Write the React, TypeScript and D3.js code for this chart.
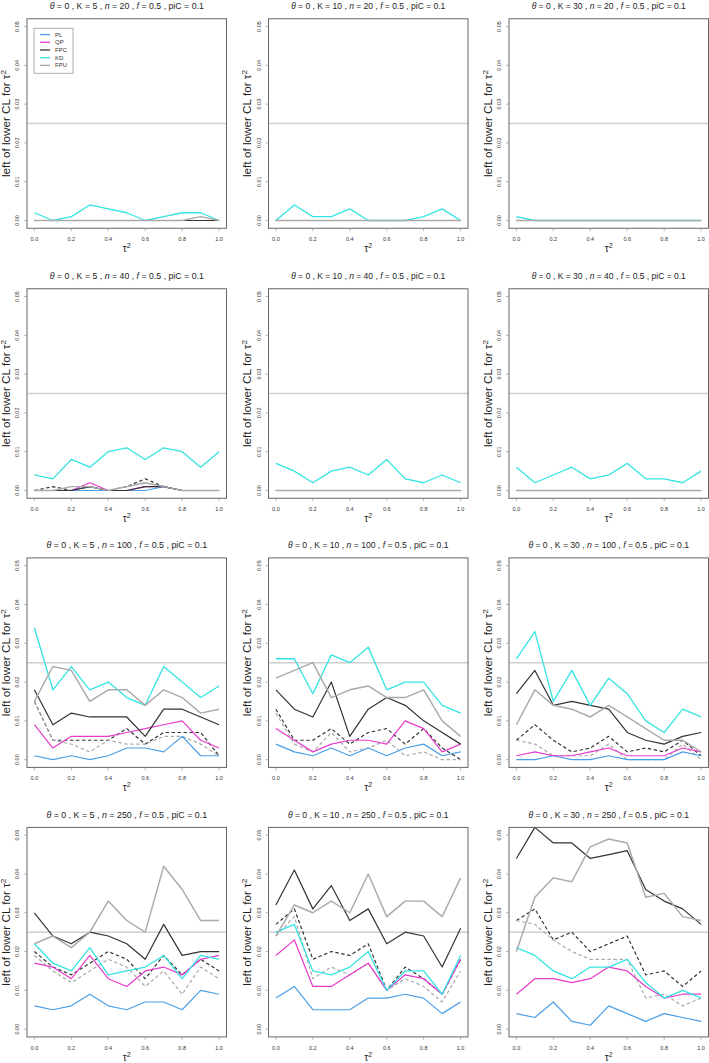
import React, { useLayoutEffect, useRef, useState } from "react";
import * as d3 from "d3";

// ---- data ----
const TAU2 = [0, 0.1, 0.2, 0.3, 0.4, 0.5, 0.6, 0.7, 0.8, 0.9, 1.0];
const X_TICKS = [0, 0.2, 0.4, 0.6, 0.8, 1.0];
const Y_TICKS = [0, 0.01, 0.02, 0.03, 0.04, 0.05];
const K_VALUES = [5, 10, 30];
const N_VALUES = [20, 40, 100, 250];
const REF_LEVEL = 0.025;
const LEGEND_NAMES = ["PL", "QP", "FPC", "KD", "FPU"];

// panels in row order: n=20 (K=5,10,30), n=40, n=100, n=250
const PL = [
  [0, 0, 0, 0, 0, 0, 0, 0, 0, 0, 0],
  [0, 0, 0, 0, 0, 0, 0, 0, 0, 0, 0],
  [0, 0, 0, 0, 0, 0, 0, 0, 0, 0, 0],
  [0, 0, 0, 0, 0, 0, 0, 0.001, 0, 0, 0],
  [0, 0, 0, 0, 0, 0, 0, 0, 0, 0, 0],
  [0, 0, 0, 0, 0, 0, 0, 0, 0, 0, 0],
  [0.001, 0, 0.001, 0, 0.001, 0.003, 0.003, 0.002, 0.006, 0.001, 0.001],
  [0.004, 0.002, 0.001, 0.003, 0.001, 0.003, 0.001, 0.003, 0.004, 0.001, 0.002],
  [0, 0, 0.001, 0, 0, 0.001, 0, 0, 0, 0.002, 0.001],
  [0.006, 0.005, 0.006, 0.009, 0.006, 0.005, 0.007, 0.007, 0.005, 0.01, 0.009],
  [0.008, 0.011, 0.005, 0.005, 0.005, 0.008, 0.008, 0.009, 0.008, 0.004, 0.007],
  [0.004, 0.003, 0.007, 0.002, 0.001, 0.006, 0.004, 0.002, 0.004, 0.003, 0.002],
];
const QP = [
  [0, 0, 0, 0, 0, 0, 0, 0, 0, 0, 0],
  [0, 0, 0, 0, 0, 0, 0, 0, 0, 0, 0],
  [0, 0, 0, 0, 0, 0, 0, 0, 0, 0, 0],
  [0, 0, 0, 0.002, 0, 0, 0.001, 0.001, 0, 0, 0],
  [0, 0, 0, 0, 0, 0, 0, 0, 0, 0, 0],
  [0, 0, 0, 0, 0, 0, 0, 0, 0, 0, 0],
  [0.009, 0.003, 0.006, 0.006, 0.006, 0.007, 0.008, 0.009, 0.01, 0.005, 0.003],
  [0.008, 0.005, 0.002, 0.004, 0.005, 0.005, 0.004, 0.01, 0.008, 0.002, 0.004],
  [0.001, 0.002, 0.001, 0.001, 0.002, 0.003, 0.001, 0.001, 0.001, 0.003, 0.002],
  [0.017, 0.016, 0.013, 0.019, 0.013, 0.011, 0.015, 0.016, 0.014, 0.018, 0.019],
  [0.019, 0.023, 0.011, 0.011, 0.014, 0.017, 0.01, 0.014, 0.013, 0.009, 0.018],
  [0.009, 0.013, 0.013, 0.012, 0.013, 0.016, 0.015, 0.011, 0.008, 0.009, 0.009],
];
const FPC = [
  [0, 0, 0, 0, 0, 0, 0, 0, 0, 0, 0],
  [0, 0, 0, 0, 0, 0, 0, 0, 0, 0, 0],
  [0, 0, 0, 0, 0, 0, 0, 0, 0, 0, 0],
  [0, 0, 0, 0.001, 0, 0, 0.001, 0.001, 0, 0, 0],
  [0, 0, 0, 0, 0, 0, 0, 0, 0, 0, 0],
  [0, 0, 0, 0, 0, 0, 0, 0, 0, 0, 0],
  [0.018, 0.009, 0.012, 0.011, 0.011, 0.011, 0.006, 0.013, 0.013, 0.011, 0.009],
  [0.018, 0.013, 0.011, 0.02, 0.006, 0.013, 0.016, 0.014, 0.01, 0.007, 0.004],
  [0.017, 0.023, 0.014, 0.015, 0.014, 0.013, 0.007, 0.005, 0.004, 0.006, 0.007],
  [0.03, 0.024, 0.022, 0.025, 0.024, 0.022, 0.018, 0.027, 0.019, 0.02, 0.02],
  [0.032, 0.041, 0.031, 0.037, 0.028, 0.031, 0.022, 0.025, 0.024, 0.016, 0.026],
  [0.044, 0.052, 0.048, 0.048, 0.044, 0.045, 0.046, 0.036, 0.033, 0.031, 0.027],
];
const KD = [
  [0.002, 0, 0.001, 0.004, 0.003, 0.002, 0, 0.001, 0.002, 0.002, 0],
  [0, 0.004, 0.001, 0.001, 0.003, 0, 0, 0, 0.001, 0.003, 0],
  [0.001, 0, 0, 0, 0, 0, 0, 0, 0, 0, 0],
  [0.004, 0.003, 0.008, 0.006, 0.01, 0.011, 0.008, 0.011, 0.01, 0.006, 0.01],
  [0.007, 0.005, 0.002, 0.005, 0.006, 0.004, 0.008, 0.003, 0.002, 0.004, 0.002],
  [0.006, 0.002, 0.004, 0.006, 0.003, 0.004, 0.007, 0.003, 0.003, 0.002, 0.005],
  [0.034, 0.018, 0.024, 0.018, 0.02, 0.016, 0.014, 0.024, 0.02, 0.016, 0.019],
  [0.026, 0.026, 0.017, 0.027, 0.025, 0.029, 0.018, 0.02, 0.02, 0.014, 0.012],
  [0.026, 0.033, 0.015, 0.023, 0.014, 0.021, 0.017, 0.01, 0.007, 0.013, 0.011],
  [0.022, 0.017, 0.015, 0.021, 0.014, 0.015, 0.016, 0.019, 0.013, 0.019, 0.018],
  [0.025, 0.027, 0.015, 0.014, 0.016, 0.02, 0.01, 0.015, 0.015, 0.009, 0.019],
  [0.021, 0.019, 0.015, 0.013, 0.016, 0.016, 0.018, 0.012, 0.008, 0.01, 0.008],
];
const FPU = [
  [0, 0, 0, 0, 0, 0, 0, 0, 0, 0.001, 0],
  [0, 0, 0, 0, 0, 0, 0, 0, 0, 0, 0],
  [0, 0, 0, 0, 0, 0, 0, 0, 0, 0, 0],
  [0, 0, 0.001, 0.001, 0, 0.001, 0.002, 0.001, 0, 0, 0],
  [0, 0, 0, 0, 0, 0, 0, 0, 0, 0, 0],
  [0, 0, 0, 0, 0, 0, 0, 0, 0, 0, 0],
  [0.015, 0.024, 0.023, 0.015, 0.018, 0.018, 0.014, 0.018, 0.016, 0.012, 0.013],
  [0.021, 0.023, 0.025, 0.016, 0.018, 0.019, 0.016, 0.016, 0.018, 0.01, 0.006],
  [0.009, 0.018, 0.014, 0.013, 0.011, 0.014, 0.011, 0.008, 0.005, 0.005, 0.002],
  [0.022, 0.024, 0.021, 0.025, 0.033, 0.028, 0.025, 0.042, 0.036, 0.028, 0.028],
  [0.024, 0.032, 0.03, 0.033, 0.03, 0.04, 0.029, 0.033, 0.033, 0.029, 0.039],
  [0.02, 0.034, 0.039, 0.038, 0.047, 0.049, 0.048, 0.034, 0.035, 0.029, 0.028],
];
const FPC_DASHED = [
  [0, 0, 0, 0, 0, 0, 0, 0, 0, 0, 0],
  [0, 0, 0, 0, 0, 0, 0, 0, 0, 0, 0],
  [0, 0, 0, 0, 0, 0, 0, 0, 0, 0, 0],
  [0, 0.001, 0, 0.001, 0, 0.001, 0.003, 0.001, 0, 0, 0],
  [0, 0, 0, 0, 0, 0, 0, 0, 0, 0, 0],
  [0, 0, 0, 0, 0, 0, 0, 0, 0, 0, 0],
  [0.015, 0.005, 0.005, 0.005, 0.005, 0.008, 0.004, 0.007, 0.007, 0.007, 0.001],
  [0.013, 0.005, 0.005, 0.008, 0.004, 0.007, 0.008, 0.004, 0.008, 0.003, 0],
  [0.005, 0.009, 0.005, 0.002, 0.003, 0.006, 0.002, 0.003, 0.002, 0.005, 0.001],
  [0.02, 0.016, 0.014, 0.017, 0.02, 0.018, 0.013, 0.019, 0.014, 0.018, 0.015],
  [0.027, 0.031, 0.018, 0.02, 0.019, 0.022, 0.01, 0.016, 0.013, 0.009, 0.018],
  [0.028, 0.031, 0.023, 0.025, 0.02, 0.022, 0.024, 0.014, 0.015, 0.011, 0.015],
];
const FPU_DASHED = [
  [0, 0, 0, 0, 0, 0, 0, 0, 0, 0, 0],
  [0, 0, 0, 0, 0, 0, 0, 0, 0, 0, 0],
  [0, 0, 0, 0, 0, 0, 0, 0, 0, 0, 0],
  [0, 0, 0, 0.001, 0, 0.001, 0.002, 0.001, 0, 0, 0],
  [0, 0, 0, 0, 0, 0, 0, 0, 0, 0, 0],
  [0, 0, 0, 0, 0, 0, 0, 0, 0, 0, 0],
  [0.015, 0.005, 0.004, 0.002, 0.005, 0.004, 0.004, 0.006, 0.006, 0.004, 0.001],
  [0.012, 0.004, 0.002, 0.007, 0.002, 0.003, 0.005, 0.001, 0.002, 0, 0],
  [0.005, 0.004, 0.001, 0.001, 0.001, 0.004, 0, 0, 0, 0.004, 0],
  [0.019, 0.015, 0.012, 0.015, 0.018, 0.016, 0.011, 0.015, 0.009, 0.016, 0.013],
  [0.024, 0.029, 0.013, 0.016, 0.014, 0.017, 0.01, 0.013, 0.011, 0.007, 0.015],
  [0.028, 0.027, 0.023, 0.02, 0.018, 0.018, 0.018, 0.008, 0.009, 0.006, 0.008],
];

// ---- styling ----
const COLORS = {
  PL: "#4a9fe8",
  QP: "#e63ccc",
  FPC: "#333333",
  KD: "#35e3e3",
  FPU: "#aaaaaa",
};
// drawing order: dashed first, then solid, FPU last (on top)
const SERIES = [
  { data: FPC_DASHED, color: COLORS.FPC, dash: "3.5,2.5", w: 1.2 },
  { data: FPU_DASHED, color: COLORS.FPU, dash: "3.5,2.5", w: 1.2 },
  { data: PL, color: COLORS.PL, dash: null, w: 1.2 },
  { data: QP, color: COLORS.QP, dash: null, w: 1.2 },
  { data: FPC, color: COLORS.FPC, dash: null, w: 1.2 },
  { data: KD, color: COLORS.KD, dash: null, w: 1.3 },
  { data: FPU, color: COLORS.FPU, dash: null, w: 1.45 },
];

const W = 709;
const H = 1063;
const COL_LEFT = [27, 268.5, 509];
const ROW_TOP = [18.76, 288.76, 557.9, 827.4];
const BOX_W = 199.5;
const BOX_H = 209.5;
const FONT = "'Liberation Sans', Arial, Helvetica, sans-serif";

function FitText({
  target,
  base,
  children,
  ...rest
}: {
  target: number;
  base: number;
  children: React.ReactNode;
  [k: string]: any;
}) {
  const ref = useRef<SVGTextElement>(null);
  const [size, setSize] = useState(base);
  useLayoutEffect(() => {
    const el = ref.current;
    if (!el) return;
    const w = el.getComputedTextLength();
    if (w > 0) {
      const ns = (size * target) / w;
      if (Math.abs(ns - size) > 0.03) setSize(ns);
    }
  }, [size, target]);
  return (
    <text ref={ref} fontSize={size} {...rest}>
      {children}
    </text>
  );
}

function Panel({ idx }: { idx: number }) {
  const row = Math.floor(idx / 3);
  const col = idx % 3;
  const left = COL_LEFT[col];
  const top = ROW_TOP[row];
  const x = d3.scaleLinear().domain([-0.04, 1.04]).range([left, left + BOX_W]);
  const y = d3.scaleLinear().domain([-0.002, 0.052]).range([top + BOX_H, top]);
  const line = d3
    .line<number>()
    .x((_, i) => x(TAU2[i]))
    .y((v) => y(v));
  const bottom = top + BOX_H;
  const cx = left + BOX_W / 2;
  const cy = top + BOX_H / 2;
  const titleW = N_VALUES[row] >= 100 ? 160.5 : 154;
  return (
    <g>
      {/* title */}
      <FitText target={titleW} base={9.4} x={cx} y={top - 9.5} textAnchor="middle" fontFamily={FONT} fill="#222">
        <tspan fontStyle="italic">θ</tspan>
        {` = 0 , K = ${K_VALUES[col]} , `}
        <tspan fontStyle="italic">n</tspan>
        {` = ${N_VALUES[row]} , `}
        <tspan fontStyle="italic">f</tspan>
        {` = 0.5 , piC = 0.1`}
      </FitText>
      {/* reference line */}
      <line x1={left} x2={left + BOX_W} y1={y(REF_LEVEL)} y2={y(REF_LEVEL)} stroke="#cfcfcf" strokeWidth={1.5} />
      {/* series */}
      {SERIES.map((s, i) => (
        <path
          key={i}
          d={line(s.data[idx]) || ""}
          fill="none"
          stroke={s.color}
          strokeWidth={s.w}
          strokeDasharray={s.dash || undefined}
          strokeLinejoin="round"
        />
      ))}
      {/* box */}
      <rect x={left} y={top} width={BOX_W} height={BOX_H} fill="none" stroke="#666" strokeWidth={1} />
      {/* y ticks */}
      {Y_TICKS.map((t) => (
        <g key={"y" + t}>
          <line x1={left - 3} x2={left} y1={y(t)} y2={y(t)} stroke="#888" strokeWidth={0.6} />
          <text
            transform={`translate(${left - 8},${y(t)}) rotate(-90)`}
            textAnchor="middle"
            fontSize={5.5}
            fontFamily={FONT}
            fill="#333"
          >
            {t.toFixed(2)}
          </text>
        </g>
      ))}
      {/* x ticks */}
      {X_TICKS.map((t) => (
        <g key={"x" + t}>
          <line x1={x(t)} x2={x(t)} y1={bottom} y2={bottom + 3} stroke="#888" strokeWidth={0.6} />
          <text x={x(t)} y={bottom + 13} textAnchor="middle" fontSize={5.5} fontFamily={FONT} fill="#333">
            {t.toFixed(1)}
          </text>
        </g>
      ))}
      {/* x label */}
      <text x={cx} y={bottom + 24} textAnchor="middle" fontSize={10} fontFamily={FONT} fill="#222">
        τ<tspan dy={-4} fontSize={7}>2</tspan>
      </text>
      {/* y label */}
      <text
        transform={`translate(${left - 17.5},${cy}) rotate(-90)`}
        textAnchor="middle"
        fontSize={10}
        fontFamily={FONT}
        fill="#222"
        textLength={107}
        lengthAdjust="spacingAndGlyphs"
      >
        left of lower CL for τ<tspan dy={-4} fontSize={7}>2</tspan>
      </text>
      {idx === 0 && <Legend left={left} top={top} />}
    </g>
  );
}

function Legend({ left, top }: { left: number; top: number }) {
  const lx = left + 7;
  const ly = top + 9.5;
  const step = 7.7;
  const colors = [COLORS.PL, COLORS.QP, COLORS.FPC, COLORS.KD, COLORS.FPU];
  return (
    <g>
      <rect x={lx} y={ly} width={39} height={45} fill="white" stroke="#999" strokeWidth={0.8} />
      {LEGEND_NAMES.map((name, i) => (
        <g key={name}>
          <line
            x1={lx + 6}
            x2={lx + 16}
            y1={ly + 6.3 + i * step}
            y2={ly + 6.3 + i * step}
            stroke={colors[i]}
            strokeWidth={1.3}
          />
          <text x={lx + 21} y={ly + 8.4 + i * step} fontSize={6} fontFamily={FONT} fill="#333">
            {name}
          </text>
        </g>
      ))}
    </g>
  );
}

export default function App() {
  const panels = d3.range(12);
  return (
    <svg
      width={W}
      height={H}
      viewBox={`0 0 ${W} ${H}`}
      style={{ position: "absolute", left: 0, top: 0, background: "white" }}
    >
      <rect width={W} height={H} fill="white" />
      {panels.map((i) => (
        <Panel key={i} idx={i} />
      ))}
    </svg>
  );
}
